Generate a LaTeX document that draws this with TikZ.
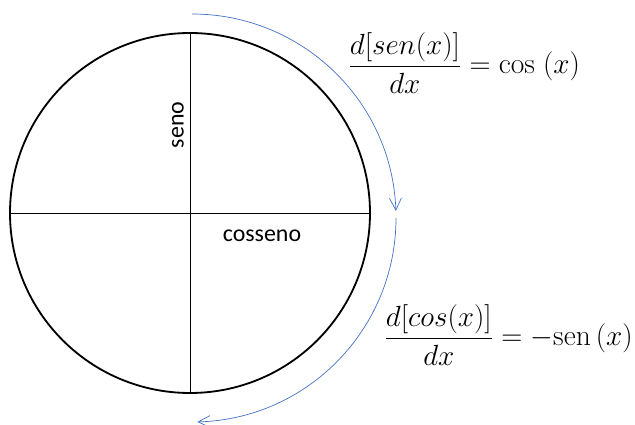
\documentclass[tikz,border=0pt]{standalone}
\usepackage{amsmath}
\usepackage{fontspec}
\newfontfamily\labelfont{Carlito}
\usetikzlibrary{arrows.meta}
\definecolor{arcblue}{RGB}{68,114,196}

\begin{document}
\begin{tikzpicture}[>={Straight Barb[length=3mm,width=3mm]},
  axis/.style={black,line width=0.6pt},
  turn/.style={arcblue,line width=0.5pt,->},
  lbl/.style={font=\labelfont\fontsize{17}{20}\selectfont},
  eq/.style={inner sep=0pt,anchor=west,font=\fontsize{21}{25}\selectfont}]
\useasboundingbox (-4.75,-5.3) rectangle (11.125,5.325);
\draw[line width=1.3pt] (0,0) circle (4.5);
\draw[axis] (-4.5,0) -- (4.5,0);
\draw[axis] (0,4.5) -- (0,-4.5);
\node[lbl,rotate=90] (seno) at (-0.3,2.2) {seno};
\node[lbl] (cosseno) at (1.8,-0.575) {cosseno};
\draw[turn] (0.05,-0.125) ++(90:5.1) arc[start angle=90,end angle=2,radius=5.1];
\draw[turn] (0.05,-0.125) ++(0:5.1) arc[start angle=0,end angle=-88.5,radius=5.1];
\node[eq] (dsen) at (3.95,3.75) {$\dfrac{d[sen(x)]}{dx}=\cos\;(x)$};
\node[eq] (dcos) at (4.85,-3.05) {$\dfrac{d[cos(x)]}{dx}=-\mathrm{sen}\,(x)$};
\end{tikzpicture}
\end{document}
